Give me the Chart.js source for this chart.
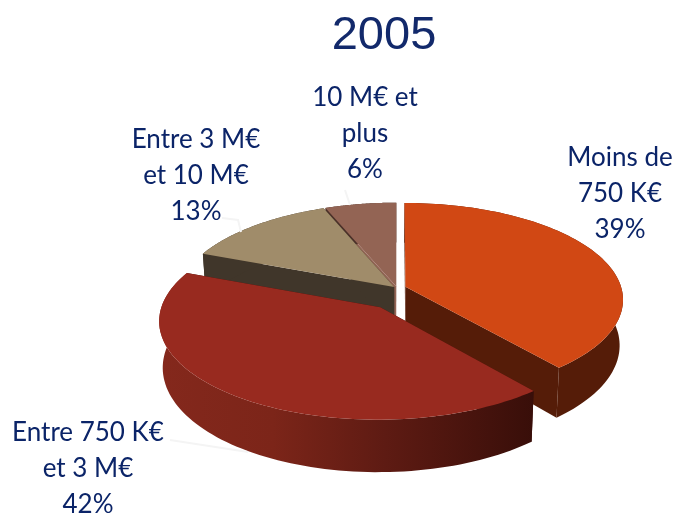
<!DOCTYPE html>
<html>
<head>
<meta charset="utf-8">
<style>
  html, body { margin: 0; padding: 0; background: #fff; }
  #wrap { width: 677px; height: 514px; }
</style>
<script src="https://cdn.jsdelivr.net/npm/chart.js@4"></script>
</head>
<body>
<div id="wrap"><canvas id="pie"></canvas></div>
<script>
const categories = [['Moins de', '750 K€'], ['Entre 750 K€', 'et 3 M€'], ['Entre 3 M€', 'et 10 M€'], ['10 M€ et', 'plus']];
const shares = [39, 42, 13, 6];
const chartTitle = '2005';

const topColors  = ['#d14814', '#982a1f', '#a08c6a', '#936454'];
const cutColors  = ['#551c08', '#3a100b', '#40362a', '#4a3028'];
const explode    = [9, 28, 4, 4];
const nudgeY     = [0, 9, 0, 0];

// look of the fake 3d pie
const shiftX = 13, squash = 0.44, persp = 0.129, depth = 45, shrink = 0.015;
const drawOrder = [3, 2, 0, 1];

// label anchors, same order as categories
const labelPos = [[620, 158], [88, 433], [196, 140], [365, 98]];
const labelGap = 36;

const leaders = [
  [[222, 218], [238, 220], [241, 232]],
  [[345, 190], [350, 205]],
  [[170, 440], [248, 452]]
];

function project(el, i, angle, r, z) {
  const R = el.outerRadius;
  const mid = (el.startAngle + el.endAngle) / 2;
  const off = explode[i];
  const u = (Math.cos(angle) * r + Math.cos(mid) * off) / R;
  const v = (Math.sin(angle) * r + Math.sin(mid) * off) / R;
  const s = 1 / (1 - persp * v);
  return [
    el.x + shiftX + u * R * s * (1 - shrink * z),
    el.y + nudgeY[i] + squash * R * v * s + z * depth * s
  ];
}

function fillPoly(ctx, pts, fill) {
  ctx.beginPath();
  pts.forEach((p, n) => n ? ctx.lineTo(p[0], p[1]) : ctx.moveTo(p[0], p[1]));
  ctx.closePath();
  ctx.fillStyle = fill;
  ctx.fill();
}

function rimPoints(el, i, z) {
  const pts = [];
  const steps = 90;
  for (let k = 0; k <= steps; k++) {
    const a = el.startAngle + (el.endAngle - el.startAngle) * k / steps;
    pts.push(project(el, i, a, el.outerRadius, z));
  }
  return pts;
}

const pie3d = {
  id: 'pie3d',
  beforeDatasetDraw(chart, args) {
    const ctx = chart.ctx;
    const arcs = args.meta.data;
    ctx.save();
    drawOrder.forEach(i => {
      const el = arcs[i];
      const top = rimPoints(el, i, 0);
      const bottom = rimPoints(el, i, 1);
      const apexTop = project(el, i, 0, 0, 0);
      const apexBot = project(el, i, 0, 0, 1);

      // cut faces, the one between the two back slices stays hidden
      const startCut = i === 3 ? topColors[i] : cutColors[i];
      fillPoly(ctx, [apexTop, top[0], bottom[0], apexBot], startCut);
      fillPoly(ctx, [apexTop, top[top.length - 1], bottom[bottom.length - 1], apexBot], cutColors[i]);

      // outer wall
      let wall = cutColors[i];
      if (i === 1) {
        wall = ctx.createLinearGradient(160, 0, 535, 0);
        wall.addColorStop(0, '#84281c');
        wall.addColorStop(0.3, '#7c2519');
        wall.addColorStop(0.6, '#5e1b13');
        wall.addColorStop(1, '#380e09');
      }
      fillPoly(ctx, top.concat(bottom.slice().reverse()), wall);

      // top face
      fillPoly(ctx, [apexTop].concat(top), topColors[i]);
    });
    ctx.restore();
    return false;
  },
  afterDraw(chart) {
    const ctx = chart.ctx;
    ctx.save();
    ctx.strokeStyle = '#f4f4f4';
    ctx.lineWidth = 2;
    leaders.forEach(line => {
      ctx.beginPath();
      line.forEach((p, n) => n ? ctx.lineTo(p[0], p[1]) : ctx.moveTo(p[0], p[1]));
      ctx.stroke();
    });
    ctx.fillStyle = '#0b2468';
    ctx.font = '26px Lato';
    ctx.textAlign = 'center';
    ctx.textBaseline = 'middle';
    categories.forEach((lines, i) => {
      const [x, y] = labelPos[i];
      lines.concat(shares[i] + '%').forEach((t, n) => ctx.fillText(t, x, y + n * labelGap));
    });
    ctx.restore();
  }
};

new Chart(document.getElementById('pie'), {
  type: 'pie',
  data: {
    labels: categories.map(c => c.join(' ')),
    datasets: [{
      data: shares,
      backgroundColor: topColors,
      borderWidth: 0,
      offset: explode
    }]
  },
  options: {
    responsive: true,
    maintainAspectRatio: false,
    animation: false,
    radius: 216,
    layout: { padding: { left: 91, top: 0, right: 0, bottom: 10 } },
    plugins: {
      legend: { display: false },
      tooltip: { enabled: false },
      title: {
        display: true,
        text: chartTitle,
        color: '#12296b',
        font: { family: '"Liberation Sans"', size: 47, weight: 'normal' },
        padding: { top: 8, bottom: 8 }
      }
    }
  },
  plugins: [pie3d]
});
</script>
</body>
</html>
